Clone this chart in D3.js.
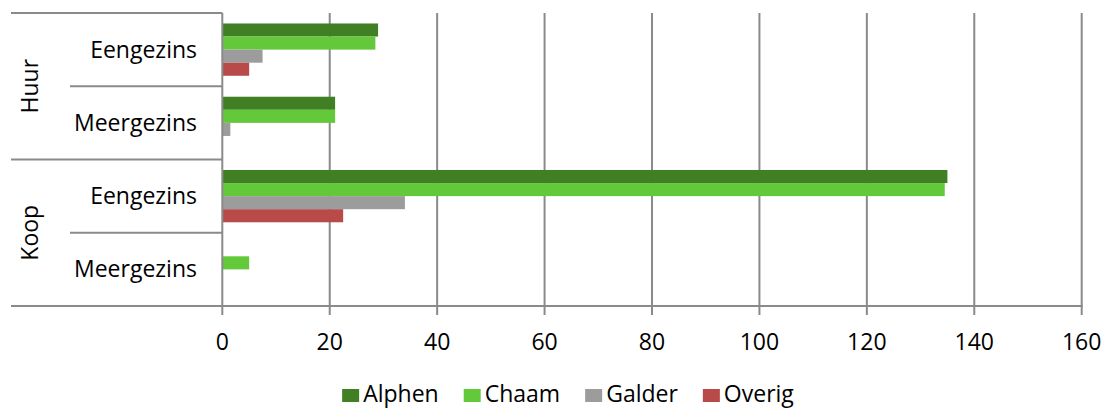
<!DOCTYPE html>
<html>
<head>
<meta charset="utf-8">
<script src="https://cdn.jsdelivr.net/npm/d3@7"></script>
<style>
  html, body { margin: 0; padding: 0; background: #fff; }
  svg { display: block; }
  text { font-family: "Open Sans", sans-serif; fill: #000; }
</style>
</head>
<body>
<svg id="chart" width="1105" height="408"></svg>
<script>
// Woningvoorraad per kern: huur/koop, eengezins/meergezins
const groups = ["Huur", "Koop"];
const categories = ["Huur|Eengezins", "Huur|Meergezins", "Koop|Eengezins", "Koop|Meergezins"];
const categoryLabels = ["Eengezins", "Meergezins", "Eengezins", "Meergezins"];
const seriesNames = ["Alphen", "Chaam", "Galder", "Overig"];
const alphen = [29, 21, 135, 0];
const chaam = [28.5, 21, 134.5, 5];
const galder = [7.5, 1.5, 34, 0];
const overig = [5, 0, 22.5, 0];
const tickValues = [0, 20, 40, 60, 80, 100, 120, 140, 160];
const colors = ["#417f24", "#63c93a", "#9c9c9c", "#b84a4a"];

const seriesValues = [alphen, chaam, galder, overig];

const svg = d3.select("#chart");
const gridColor = "#8a8a8a";
const fontSize = 23;

const plot = { left: 222.3, right: 1081.7, top: 13, bottom: 306 };
const tickLen = 9;
const outerLeft = 11;
const innerLeft = 70;

const x = d3.scaleLinear().domain([0, 160]).range([plot.left, plot.right]);
const y = d3.scaleBand().domain(categories).range([plot.top, plot.bottom]).paddingInner(0).paddingOuter(0);
const ySeries = d3.scaleBand().domain(seriesNames)
  .range([y.bandwidth() * 0.143, y.bandwidth() * 0.857]).padding(0);

// vertical gridlines (value axis)
svg.append("g").selectAll("line")
  .data(tickValues.slice(1))
  .join("line")
  .attr("x1", d => x(d)).attr("x2", d => x(d))
  .attr("y1", plot.top).attr("y2", plot.bottom + tickLen)
  .attr("stroke", gridColor).attr("stroke-width", 2);

// bars
const barData = [];
categories.forEach((c, ci) => {
  seriesNames.forEach((s, si) => {
    barData.push({ cat: c, series: s, value: seriesValues[si][ci], color: colors[si] });
  });
});
svg.append("g").selectAll("rect")
  .data(barData)
  .join("rect")
  .attr("x", x(0))
  .attr("y", d => y(d.cat) + ySeries(d.series))
  .attr("width", d => x(d.value) - x(0))
  .attr("height", ySeries.bandwidth())
  .attr("fill", d => d.color);

// category axis line and value axis baseline
const axes = svg.append("g").attr("stroke", gridColor).attr("stroke-width", 2);
axes.append("line")
  .attr("x1", x(0)).attr("x2", x(0))
  .attr("y1", plot.top).attr("y2", plot.bottom + tickLen);
axes.append("line")
  .attr("x1", outerLeft).attr("x2", plot.right + 1)
  .attr("y1", plot.bottom).attr("y2", plot.bottom);

// multi-level category dividers
const outerEdges = [plot.top, y(categories[2])];
axes.selectAll("line.outer")
  .data(outerEdges)
  .join("line").attr("class", "outer")
  .attr("x1", outerLeft).attr("x2", x(0))
  .attr("y1", d => d).attr("y2", d => d);
const innerEdges = [y(categories[1]), y(categories[3])];
axes.selectAll("line.inner")
  .data(innerEdges)
  .join("line").attr("class", "inner")
  .attr("x1", innerLeft).attr("x2", x(0))
  .attr("y1", d => d).attr("y2", d => d);

// value tick labels
svg.append("g").selectAll("text")
  .data(tickValues)
  .join("text")
  .attr("x", d => x(d))
  .attr("y", 350)
  .attr("text-anchor", "middle")
  .attr("font-size", fontSize)
  .text(d => d);

// inner category labels
svg.append("g").selectAll("text")
  .data(categories)
  .join("text")
  .attr("x", 197)
  .attr("y", d => y(d) + y.bandwidth() / 2)
  .attr("dy", "0.35em")
  .attr("text-anchor", "end")
  .attr("font-size", fontSize)
  .text((d, i) => categoryLabels[i]);

// outer group labels (rotated)
svg.append("g").selectAll("text")
  .data(groups)
  .join("text")
  .attr("transform", (g, i) => {
    const cy = y(categories[i * 2]) + y.bandwidth();
    return `translate(38,${cy}) rotate(-90)`;
  })
  .attr("text-anchor", "middle")
  .attr("font-size", fontSize)
  .text(d => d);

// legend
const legend = svg.append("g");
const keyW = 17, keyH = 13, keyGap = 4, itemGap = 25;
let lx = 0;
seriesNames.forEach((s, i) => {
  const item = legend.append("g").attr("transform", `translate(${lx},0)`);
  item.append("rect")
    .attr("x", 0).attr("y", -keyH)
    .attr("width", keyW).attr("height", keyH)
    .attr("fill", colors[i]);
  const t = item.append("text")
    .attr("x", keyW + keyGap).attr("y", 0)
    .attr("font-size", fontSize)
    .text(s);
  lx += keyW + keyGap + t.node().getComputedTextLength() + itemGap;
});
const legendWidth = lx - itemGap;
legend.attr("transform", `translate(${568 - legendWidth / 2},402)`);
</script>
</body>
</html>
